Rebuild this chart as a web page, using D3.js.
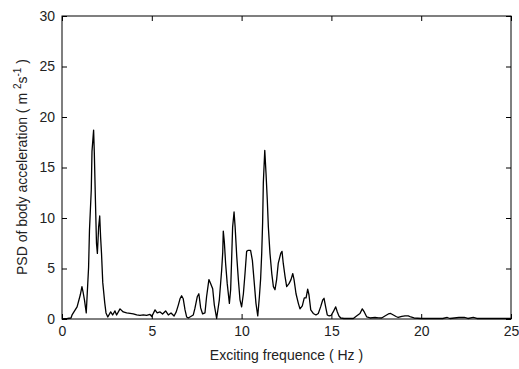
<!DOCTYPE html>
<html>
<head>
<meta charset="utf-8">
<script src="https://cdn.jsdelivr.net/npm/d3@7"></script>
<style>
  body { margin: 0; background: #fff; }
  text { font-family: "Liberation Sans", Arial, sans-serif; fill: #222; }
</style>
</head>
<body>
<script>
var width = 519,
  height = 369;

// data
var freq = [0, 0.3, 0.5, 0.56, 0.84, 1.02, 1.11, 1.18, 1.25, 1.35, 1.48, 1.53, 1.63, 1.67, 1.76, 1.8, 1.86, 1.92, 1.97, 2.04, 2.1, 2.15, 2.2, 2.27, 2.38, 2.45, 2.55, 2.71, 2.82, 2.95, 3.04, 3.23, 3.41, 3.6, 3.79, 3.97, 4.16, 4.34, 4.53, 4.71, 4.9, 5.0, 5.18, 5.3, 5.46, 5.6, 5.77, 5.92, 6.07, 6.24, 6.36, 6.48, 6.57, 6.66, 6.75, 6.85, 6.94, 7.03, 7.17, 7.31, 7.4, 7.53, 7.62, 7.72, 7.83, 7.96, 8.05, 8.18, 8.28, 8.39, 8.48, 8.61, 8.76, 8.89, 8.95, 8.98, 9.04, 9.11, 9.2, 9.32, 9.39, 9.45, 9.5, 9.58, 9.64, 9.73, 9.82, 9.91, 10.0, 10.1, 10.19, 10.28, 10.37, 10.5, 10.6, 10.69, 10.8, 10.9, 10.99, 11.06, 11.12, 11.17, 11.21, 11.29, 11.36, 11.43, 11.49, 11.58, 11.68, 11.77, 11.86, 11.95, 12.04, 12.18, 12.25, 12.32, 12.42, 12.51, 12.64, 12.75, 12.85, 12.92, 13.03, 13.16, 13.25, 13.38, 13.49, 13.59, 13.68, 13.75, 13.85, 13.99, 14.14, 14.27, 14.4, 14.52, 14.59, 14.68, 14.77, 14.88, 14.98, 15.1, 15.24, 15.33, 15.42, 15.52, 15.7, 16.0, 16.22, 16.4, 16.59, 16.72, 16.83, 16.97, 17.15, 17.43, 17.62, 17.8, 17.98, 18.17, 18.3, 18.45, 18.6, 18.72, 18.92, 19.1, 19.28, 19.42, 19.6, 20.0, 21.2, 21.45, 21.6, 22.1, 22.4, 22.6, 22.9, 23.1, 25];
var psd = [0, 0.05, 0.1, 0.4, 1.2, 2.4, 3.2, 2.6, 1.9, 0.6, 5.1, 8.8, 12.8, 16.6, 18.7, 16.4, 11.8, 7.5, 6.5, 9.1, 10.2, 8.1, 6.5, 3.6, 1.6, 0.6, 0.2, 0.7, 0.4, 0.8, 0.4, 1.0, 0.7, 0.6, 0.55, 0.5, 0.4, 0.35, 0.4, 0.35, 0.45, 0.25, 0.9, 0.6, 0.7, 0.5, 0.8, 0.4, 0.6, 0.3, 0.7, 1.4, 2.0, 2.3, 2.0, 0.9, 0.2, 0.1, 0.25, 0.4, 1.05, 2.2, 2.5, 1.1, 0.5, 0.6, 2.2, 3.9, 3.5, 3.0, 1.4, 0.05, 1.9, 4.85, 6.6, 8.7, 7.6, 5.5, 3.5, 1.55, 2.9, 6.2, 9.1, 10.6, 9.1, 6.2, 3.9, 1.9, 1.2, 2.5, 4.5, 6.7, 6.8, 6.8, 5.8, 3.9, 1.55, 0.3, 2.2, 4.0, 6.5, 9.5, 13.5, 16.7, 14.4, 11.8, 9.1, 6.5, 4.5, 3.2, 2.9, 3.9, 5.5, 6.5, 6.7, 5.5, 4.2, 3.2, 3.5, 3.9, 4.5, 3.9, 2.5, 1.55, 1.0, 1.3, 2.1, 2.1, 2.95, 2.4, 0.9, 0.55, 0.4, 0.55, 1.2, 1.9, 2.05, 1.2, 0.4, 0.3, 0.35, 0.7, 1.2, 0.7, 0.3, 0.1, 0.05, 0.05, 0.05, 0.3, 0.55, 1.0, 0.7, 0.2, 0.1, 0.15, 0.12, 0.1, 0.3, 0.5, 0.55, 0.4, 0.25, 0.15, 0.25, 0.3, 0.3, 0.2, 0.1, 0.05, 0.05, 0.15, 0.05, 0.15, 0.15, 0.05, 0.15, 0.05, 0.05];
var xTicks = [0, 5, 10, 15, 20, 25];
var yTicks = [0, 5, 10, 15, 20, 25, 30];

var svg = d3.select("body").append("svg").attr("width", width).attr("height", height);
svg.append("rect").attr("width", width).attr("height", height).attr("fill", "#fff");

var x = d3.scaleLinear().domain([0, 25]).range([62, 511]);
var y = d3.scaleLinear().domain([0, 30]).range([319, 16]);

// curve
var line = d3.line()
  .x(function (d, i) { return x(freq[i]); })
  .y(function (d) { return y(d); });

svg.append("path")
  .datum(psd)
  .attr("d", line)
  .attr("fill", "none")
  .attr("stroke", "#000")
  .attr("stroke-width", 1.3)
  .attr("stroke-linejoin", "round");

// axes, ticks point inwards like matlab
function styleAxis(g) {
  g.select(".domain").remove();
  g.selectAll("line").attr("stroke", "#000");
  g.selectAll("text").attr("font-size", 14).attr("fill", "#222");
}

svg.append("g").attr("transform", "translate(0,319)")
  .call(d3.axisBottom(x).tickValues(xTicks).tickSizeInner(-5).tickSizeOuter(0).tickPadding(7))
  .call(styleAxis);
svg.append("g").attr("transform", "translate(0,16)")
  .call(d3.axisTop(x).tickValues(xTicks).tickSizeInner(-5).tickSizeOuter(0).tickFormat(""))
  .call(styleAxis);
svg.append("g").attr("transform", "translate(62,0)")
  .call(d3.axisLeft(y).tickValues(yTicks).tickSizeInner(-5).tickSizeOuter(0).tickPadding(7))
  .call(styleAxis);
svg.append("g").attr("transform", "translate(511,0)")
  .call(d3.axisRight(y).tickValues(yTicks).tickSizeInner(-5).tickSizeOuter(0).tickFormat(""))
  .call(styleAxis);

svg.selectAll("g text").attr("font-family", "'Liberation Sans', Arial, sans-serif");

// frame
svg.append("rect")
  .attr("x", 62).attr("y", 16)
  .attr("width", 511 - 62).attr("height", 319 - 16)
  .attr("fill", "none").attr("stroke", "#000").attr("stroke-width", 1);

// labels
svg.append("text")
  .attr("x", (62 + 511) / 2).attr("y", 360)
  .attr("text-anchor", "middle").attr("font-size", 14)
  .text("Exciting frequence ( Hz )");

var yl = svg.append("text")
  .attr("transform", "translate(27,167) rotate(-90)")
  .attr("text-anchor", "middle").attr("font-size", 14);
yl.append("tspan").text("PSD of body acceleration ( m ");
yl.append("tspan").attr("font-size", 10).attr("dy", -6).text("2");
yl.append("tspan").attr("dy", 6).text("s");
yl.append("tspan").attr("font-size", 10).attr("dy", -6).text("-1");
yl.append("tspan").attr("dy", 6).text(" )");
</script>
</body>
</html>
